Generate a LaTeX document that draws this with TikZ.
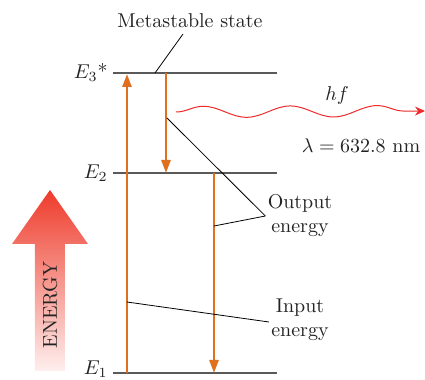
\documentclass[tikz,border=0pt]{standalone}
\usepackage{amsmath,amssymb}
\usepackage{tikz}
\usetikzlibrary{arrows.meta,positioning,calc,decorations.pathmorphing}
\usepackage{xcolor}
\definecolor{Ocolor}{HTML}{E0701F}
\definecolor{Lcolor}{HTML}{5A5A5A}
\definecolor{Wcolor}{HTML}{EE2A2A}
\definecolor{Ecolor}{HTML}{EE3B2B}
\definecolor{Tcolor}{HTML}{222222}

\begin{document}
\begin{tikzpicture}[
  x=0.5pt, y=0.5pt,
  level/.style={draw=Lcolor, line width=0.6pt},
  trans/.style={draw=Ocolor, line width=1.25pt, -{Triangle[length=6.5pt, width=4.5pt]}},
  leader/.style={draw=black, line width=0.4pt},
  txt/.style={font=\normalsize, text=Tcolor, inner sep=1pt},
  wave/.style={draw=Wcolor, line width=0.5pt},
]
  \useasboundingbox (0,0) rectangle (425,-380);

  % Energy levels
  \coordinate (e3l) at (113,-73);  \coordinate (e3r) at (277,-73);
  \coordinate (e2l) at (113,-173); \coordinate (e2r) at (277,-173);
  \coordinate (e1l) at (113,-373); \coordinate (e1r) at (277,-373);
  \draw[level] (e3l) -- (e3r);
  \draw[level] (e2l) -- (e2r);
  \draw[level] (e1l) -- (e1r);
  \node[txt, anchor=east] (e3lab) at (110,-73) {$E_3$*};
  \node[txt, anchor=east] (e2lab) at (110,-173) {$E_2$};
  \node[txt, anchor=east] (e1lab) at (110,-369) {$E_1$};

  % Transitions
  \coordinate (up0) at (127,-373);  \coordinate (up1) at (127,-74);
  \coordinate (dnA0) at (166,-73);  \coordinate (dnA1) at (166,-173);
  \coordinate (dnB0) at (214,-173); \coordinate (dnB1) at (214,-373);
  \draw[trans] (up0) -- (up1);
  \draw[trans] (dnA0) -- (dnA1);
  \draw[trans] (dnB0) -- (dnB1);

  % Emitted photon
  \coordinate (w0) at (176,-112);
  \coordinate (w1) at (425,-111);
  \draw[wave, decorate, decoration={snake, segment length=43.5pt, amplitude=2.8pt, post length=5pt},
    -{Stealth[length=5pt, width=4.5pt]}] (w0) -- (w1);
  \node[txt] (hf) at (337,-96) {$hf$};
  \node[txt] (lam) at (361,-146) {$\lambda = 632.8$ nm};

  % Labels with leaders
  \node[txt] (meta) at (190,-21) {Metastable state};
  \coordinate (metaend) at (183,-34);
  \draw[leader] (metaend) -- (155,-73);

  \node[txt, align=center] (outlab) at (300,-216) {Output\\energy};
  \coordinate (outA) at (167,-118);
  \coordinate (outB) at (214,-226);
  \draw[leader] (outA) -- (outlab.west);
  \draw[leader] (outB) -- (outlab.west);

  \node[txt, align=center] (inlab) at (300,-320) {Input\\energy};
  \coordinate (inA) at (127,-302);
  \draw[leader] (inA) -- ($(inlab.west)+(0,-2)$);

  % Energy arrow
  \shade[top color=Ecolor, bottom color=Ecolor!8]
    (50,-190) -- (88,-244) -- (65,-244) -- (65,-371) -- (35,-371) -- (35,-244) -- (12,-244) -- cycle;
  \node[txt, rotate=90] (energy) at (50,-305) {ENERGY};
\end{tikzpicture}
\end{document}
